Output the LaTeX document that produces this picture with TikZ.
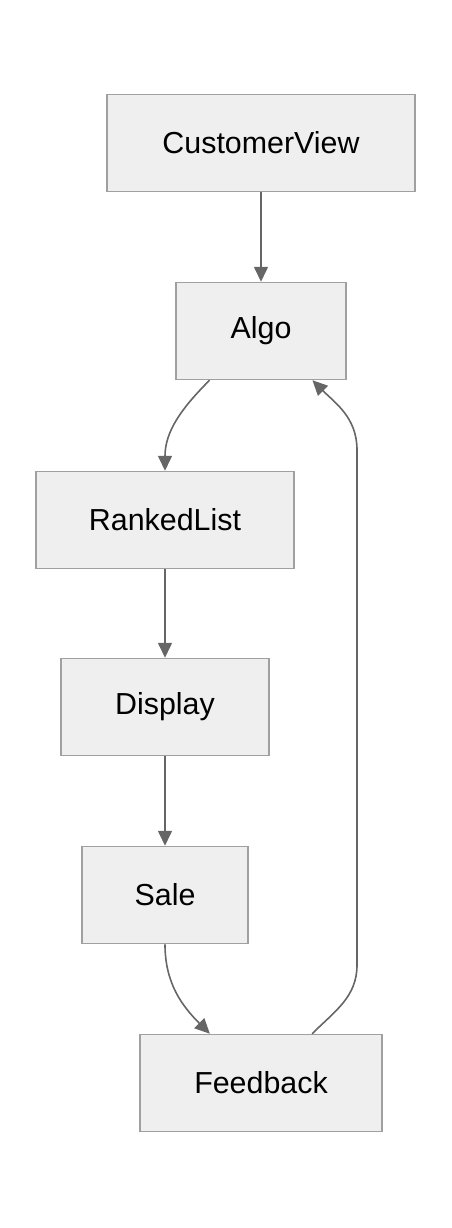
\documentclass[tikz,border=0pt]{standalone}
\usepackage{fontspec}
\setmainfont{Liberation Sans}
\definecolor{flow_fill}{RGB}{239, 239, 239}
\definecolor{flow_line}{RGB}{160, 160, 160}
\definecolor{flow_edge}{RGB}{102, 102, 102}
\usetikzlibrary{arrows.meta, positioning, calc}
\begin{document}
\begin{tikzpicture}[x=1bp, y=-1bp,
    font=\fontsize{30.5}{36}\selectfont,
    stepbox/.style={draw=flow_line, line width=1.5bp, fill=flow_fill,
      minimum height=97bp, inner sep=0pt},
    flowarrow/.style={draw=flow_edge, line width=1.6bp,
      -{Triangle[length=15bp, width=14bp]}}]
  \useasboundingbox (0,0) rectangle (452,1228);
  % Boites
  \node[stepbox, minimum width=308bp] (cview)    at (261,143)  {CustomerView};
  \node[stepbox, minimum width=170bp] (algo)     at (261,331)  {Algo};
  \node[stepbox, minimum width=258bp] (ranked)   at (165,520)  {RankedList};
  \node[stepbox, minimum width=208bp] (display)  at (165,707)  {Display};
  \node[stepbox, minimum width=166bp] (sale)     at (165,895)  {Sale};
  \node[stepbox, minimum width=242bp] (feedback) at (261,1083) {Feedback};
  % Fleches droites
  \draw[flowarrow] (cview) -- (algo);
  \draw[flowarrow] (ranked) -- (display);
  \draw[flowarrow] (display) -- (sale);
  % Fleches courbes
  \coordinate (algoout) at ($(algo.south west)!0.2!(algo.south east)$);
  \coordinate (algoin)  at ($(algo.south west)!0.8!(algo.south east)$);
  \coordinate (fbin)    at ($(feedback.north west)!0.29!(feedback.north east)$);
  \coordinate (fbout)   at ($(feedback.north west)!0.71!(feedback.north east)$);
  \coordinate (loopbot) at (357,965);
  \coordinate (looptop) at (357,450);
  \draw[flowarrow] (algoout) to[out=-135, in=90] (ranked.north);
  \draw[flowarrow] (sale.south) to[out=-90, in=135] (fbin);
  \draw[flowarrow] (fbout) to[out=45, in=-90] (loopbot) -- (looptop)
    to[out=90, in=-45] (algoin);
\end{tikzpicture}
\end{document}
